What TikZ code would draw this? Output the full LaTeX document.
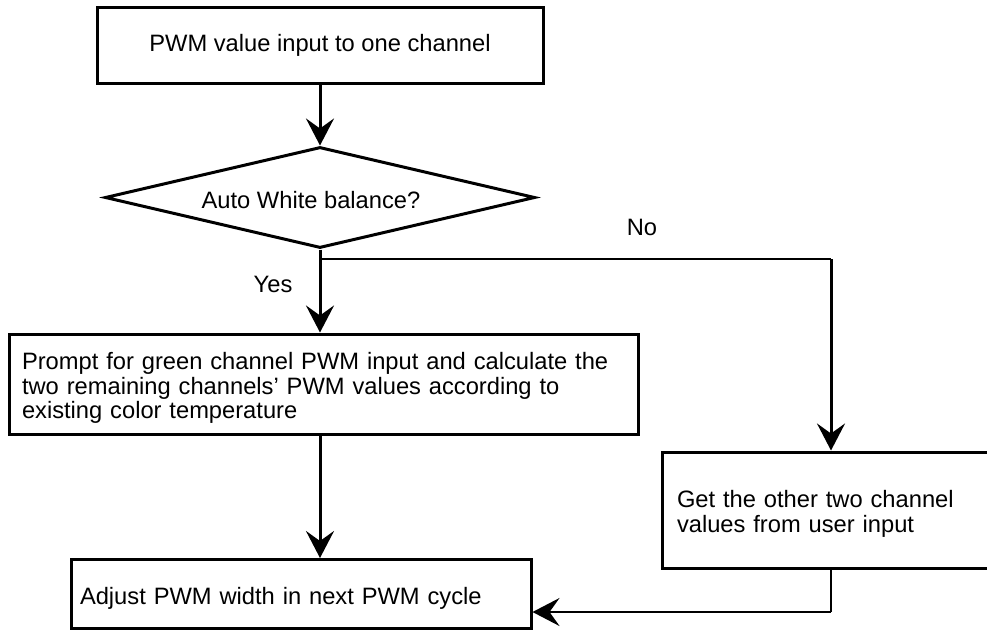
\documentclass[tikz,border=0pt]{standalone}
\usepackage{fontspec}
\setmainfont{Liberation Sans}
\usetikzlibrary{arrows.meta,shapes.geometric}
\newcommand{\lowstrut}{\rule{0pt}{25pt}}
\begin{document}
\begin{tikzpicture}[x=1pt,y=-1pt,
  font=\fontsize{23.7}{24.3}\selectfont,
  box/.style={draw,line width=3pt,inner ysep=0pt,align=left},
  tip/.style={-{Stealth[length=27pt,width=28pt,inset=10pt]}},
  flow/.style={line width=3pt,tip},
  thinline/.style={line width=2.4pt},
  lbl/.style={inner sep=0pt}]
\useasboundingbox (0,0) rectangle (987,630);
\fill[white] (0,0) rectangle (987,630);

\node[box,align=center,minimum width=446pt,minimum height=76pt] (b1) at (320,45.5) {PWM value input to one channel};
\node[draw,diamond,line width=3pt,minimum width=430pt,minimum height=101pt,inner sep=0pt] (d) at (320,197.5) {};
\node[lbl] (dtext) at (311,200) {Auto White balance?};

\node[box,minimum width=629pt,minimum height=100pt,inner xsep=13pt,text width=603pt] (b2) at (323.5,384)
  {\lowstrut Prompt for green channel PWM input and calculate the\\two remaining channels’ PWM values according to\\existing color temperature};
\node[box,minimum width=338pt,minimum height=116pt,inner xsep=15pt,text width=308pt] (b3) at (831,510)
  {\lowstrut Get the other two channel\\values from user input};
\node[box,minimum width=460pt,minimum height=69pt,inner xsep=9pt,text width=442pt] (b4) at (301,594)
  {\lowstrut Adjust PWM width in next PWM cycle};

\node[lbl] (yes) at (273,284) {Yes};
\node[lbl] (no) at (642,227) {No};

\coordinate (split) at (320,259);
\coordinate (corner) at (split -| b3.north);
\coordinate (ret) at (831,612);

\draw[flow] (b1.south) -- (b1.south |- d.north);
\draw[flow] (d.south) -- (d.south |- b2.north);
\draw[thinline] (split) -- (corner);
\draw[flow] (corner) -- (b3.north);
\draw[flow] (b2.south -| split) -- (b4.north -| split);
\draw[line width=2.6pt] (b3.south) -- (ret);
\draw[thinline,tip] (ret) -- (ret -| b4.east);
\end{tikzpicture}
\end{document}
